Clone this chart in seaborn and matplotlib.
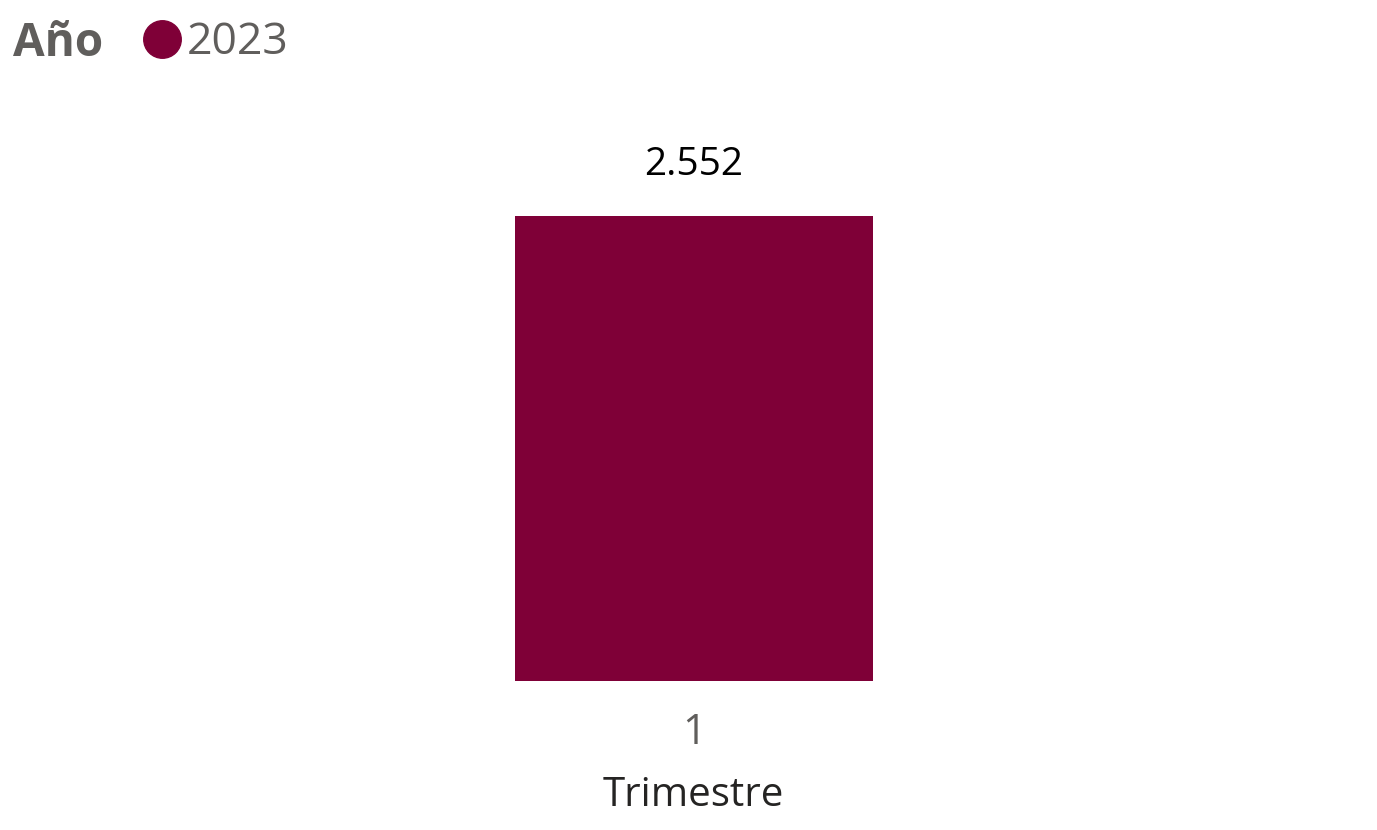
import matplotlib.pyplot as plt
from matplotlib.lines import Line2D
import seaborn as sns
import pandas as pd

sns.set_style("white")
plt.rcParams['font.family'] = ['Open Sans', 'DejaVu Sans']

# Data
trimestres = ["1"]
valores = [2552]
anios = ["2023"]
bar_color = "#7F0037"

df = pd.DataFrame({"Trimestre": trimestres, "Valor": valores, "Año": anios})

fig = plt.figure(figsize=(13.77, 8.30), dpi=100)
ax = fig.add_axes([470 / 1377, (830 - 681) / 830, 447.5 / 1377, 465 / 830])

sns.barplot(data=df, x="Trimestre", y="Valor", hue="Año",
            palette=[bar_color], width=0.8, legend=False, ax=ax,
            saturation=1, linewidth=0)

ax.set_ylim(0, max(valores))
ax.set_yticks([])
sns.despine(ax=ax, left=True, bottom=True)

# Value labels
for i, v in enumerate(valores):
    ax.annotate(f"{v:,}".replace(",", "."), (i, v), xytext=(0, 23),
                textcoords="offset points", ha="center", va="bottom",
                fontsize=28, color="#000000", annotation_clip=False)

ax.tick_params(axis="x", length=0, pad=22, labelsize=30, labelcolor="#605E5C")
ax.set_xlabel("Trimestre", fontsize=29, color="#252423", labelpad=16,
              fontweight="medium")
ax.set_ylabel("")

# Legend
fig.text(13 / 1377, 1 - 43 / 830, "Año", fontsize=33, fontweight="bold",
         color="#605E5C", va="center", ha="left")
handles = [Line2D([], [], marker="o", linestyle="none", markersize=27,
                  markerfacecolor=bar_color, markeredgecolor=bar_color)
           for _ in anios]
fig.legend(handles, anios, loc="center left",
           bbox_to_anchor=(111 / 1377, 1 - 43 / 830), frameon=False,
           fontsize=32, labelcolor="#605E5C", handletextpad=-0.1,
           borderpad=0, handlelength=1.3)

fig.savefig("out.png", dpi=100)
